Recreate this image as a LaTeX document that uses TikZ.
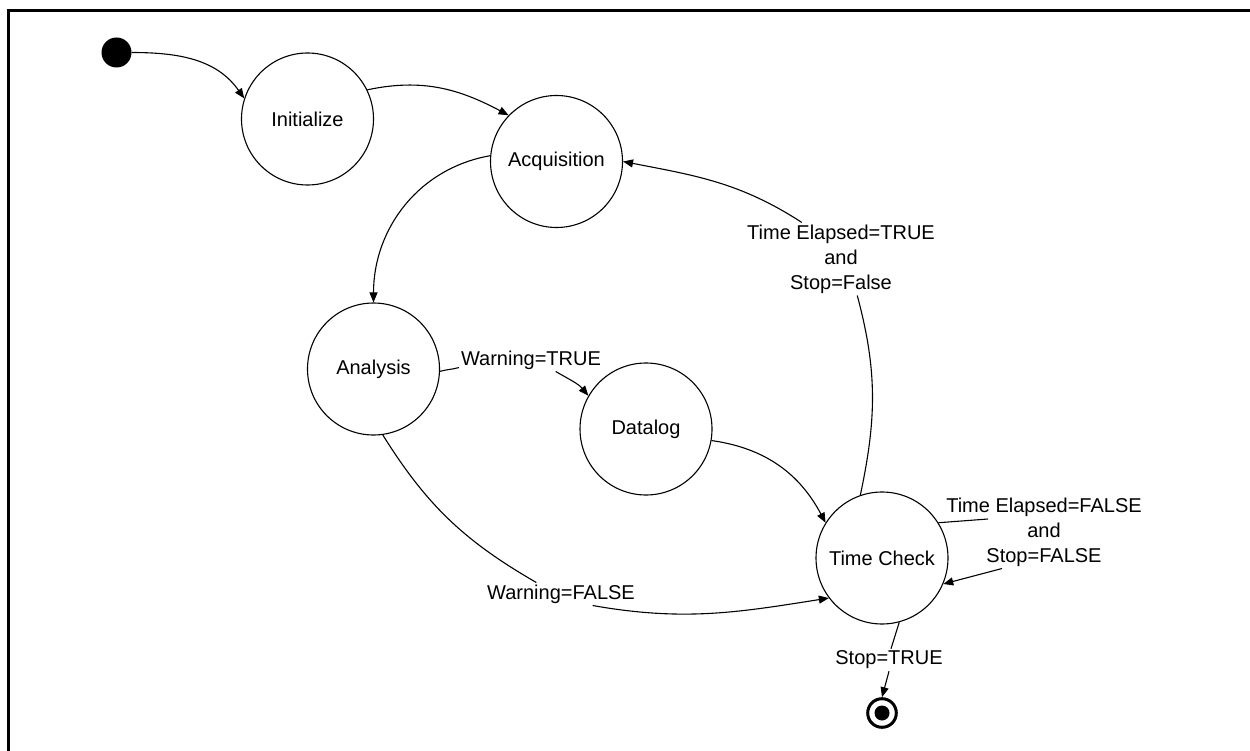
\documentclass[tikz,border=0pt]{standalone}
\usepackage{fontspec}
\setmainfont{Liberation Sans}
\usetikzlibrary{arrows.meta}
\begin{document}
\begin{tikzpicture}[x=1pt,y=-1pt,
  state/.style={circle,draw,line width=1.1pt,minimum size=132pt,inner sep=0pt,font=\fontsize{20}{24}\selectfont},
  lbl/.style={inner sep=2pt,align=center,font=\fontsize{20}{25}\selectfont},
  tr/.style={line width=1.1pt,-{Triangle[length=10pt,width=8pt]}},
  ln/.style={line width=1.1pt}]
\useasboundingbox (0,0) rectangle (1250,751);
\draw[line width=3pt] (8.3,760) -- (8.3,10.5) -- (1260,10.5);

\node[circle,fill,minimum size=30pt,inner sep=0pt] (start) at (116.5,52.5) {};
\node[state] (init) at (307.5,119) {Initialize};
\node[state] (acq) at (556.5,161.5) {Acquisition};
\node[state] (ana) at (373.5,369) {Analysis};
\node[state] (dat) at (646,429) {Datalog};
\node[state] (tc) at (882,558) {Time Check};
\node[circle,draw,line width=3pt,minimum size=28.6pt,inner sep=0pt] (fin) at (882,713) {};
\node[circle,fill,minimum size=15pt,inner sep=0pt] (findot) at (882,713) {};

\node[lbl] (lwt) at (531,360) {Warning=TRUE};
\node[lbl] (lwf) at (561,594) {Warning=FALSE};
\node[lbl] (ltt) at (841,259) {Time Elapsed=TRUE\\and\\Stop=False};
\node[lbl] (ltf) at (1044,532) {Time Elapsed=FALSE\\and\\Stop=FALSE};
\node[lbl] (lst) at (889,660) {Stop=TRUE};
\coordinate (tfa) at (988,519);

\draw[tr] (start.east) to[out=0,in=125] (init.162);
\draw[tr] (init.26) to[out=12,in=152] (acq.136);
\draw[tr] (acq.175) to[out=190,in=90] (ana.north);
\draw[ln] (ana.-2) to[out=15,in=195] (lwt.186);
\draw[tr] (lwt.-25) to[out=-30,in=130] (dat.150);
\draw[tr] (dat.-10) to[out=-8,in=118] (tc.148);
\draw[ln] (ana.-82) to[out=-58,in=150] (lwf.155);
\draw[tr] (lwf.-20) to[out=-10,in=189] (tc.217);
\draw[ln] (tc.109) to[out=78,in=-75] (ltt.-66);
\draw[tr] (ltt.137) to[out=147,in=-11] (acq.east);
\draw[ln] (tc.32) -- (tfa);
\draw[tr] (ltf.221) -- (tc.-23);
\draw[ln] (tc.-75) -- (lst.80);
\draw[tr] (lst.south) -- (fin.north);
\end{tikzpicture}
\end{document}
